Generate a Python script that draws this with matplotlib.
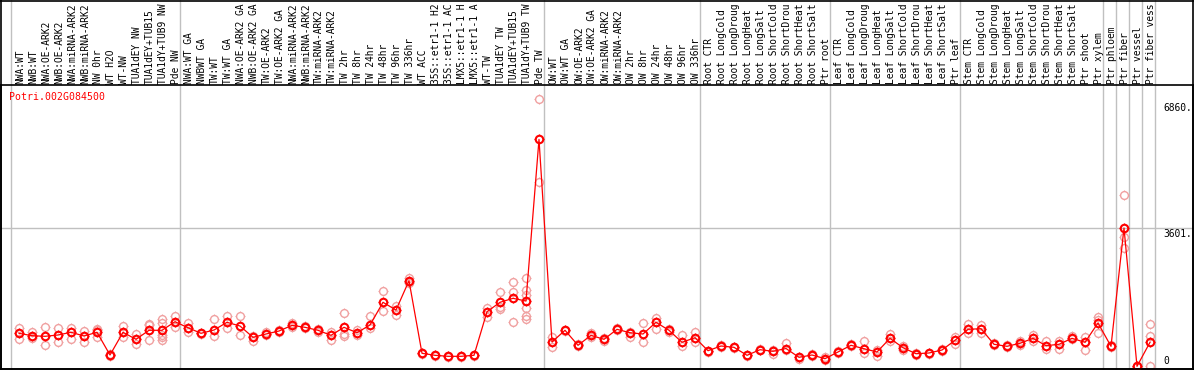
import numpy as np
import matplotlib
matplotlib.use("Agg")
import matplotlib.pyplot as plt
from matplotlib.path import Path
from matplotlib.transforms import blended_transform_factory
from matplotlib.lines import Line2D

gene = "Potri.002G084500"

group_nw = ["NWA:WT", "NWB:WT", "NWA:OE-ARK2", "NWB:OE-ARK2", "NWA:miRNA-ARK2",
            "NWB:miRNA-ARK2", "NW 0hr", "WT H2O", "WT-NW", "TUA1dEY NW",
            "TUA1dEY+TUB15 NW", "TUA1dY+TUB9 NW", "Pde NW"]
group_tw = ["NWA:WT GA", "NWBWT GA", "TW:WT", "TW:WT GA", "NWA:OE-ARK2 GA",
            "NWB:OE-ARK2 GA", "TW:OE-ARK2", "TW:OE-ARK2 GA", "NWA:miRNA-ARK2 GA",
            "NWB:miRNA-ARK2 GA", "TW:miRNA-ARK2", "TW:miRNA-ARK2 GA", "TW 2hr",
            "TW 8hr", "TW 24hr", "TW 48hr", "TW 96hr", "TW 336hr", "WT ACC",
            "35S::etr1-1 H2O", "35S::etr1-1 ACC", "LMX5::etr1-1 H2O",
            "LMX5::etr1-1 ACC", "WT-TW", "TUA1dEY TW", "TUA1dEY+TUB15 TW",
            "TUA1dY+TUB9 TW", "Pde TW"]
group_ow = ["OW:WT", "OW:WT GA", "OW:OE-ARK2", "OW:OE-ARK2 GA", "OW:miRNA-ARK2",
            "OW:miRNA-ARK2 GA", "OW 2hr", "OW 8hr", "OW 24hr", "OW 48hr",
            "OW 96hr", "OW 336hr"]
group_root = ["Root CTR", "Root LongCold", "Root LongDrought", "Root LongHeat",
              "Root LongSalt", "Root ShortCold", "Root ShortDrought",
              "Root ShortHeat", "Root ShortSalt", "Ptr root"]
group_leaf = ["Leaf CTR", "Leaf LongCold", "Leaf LongDrought", "Leaf LongHeat",
              "Leaf LongSalt", "Leaf ShortCold", "Leaf ShortDrought",
              "Leaf ShortHeat", "Leaf ShortSalt", "Ptr leaf"]
group_stem = ["Stem CTR", "Stem LongCold", "Stem LongDrought", "Stem LongHeat",
              "Stem LongSalt", "Stem ShortCold", "Stem ShortDrought",
              "Stem ShortHeat", "Stem ShortSalt", "Ptr shoot", "Ptr xylem"]
group_ptr = [["Ptr phloem"], ["Ptr fiber"], ["Ptr vessel"], ["Ptr fiber vessel"]]

groups = [group_nw, group_tw, group_ow, group_root, group_leaf, group_stem] + group_ptr

means = [873, 811, 795, 829, 899, 803, 899, 311, 899, 717, 951, 951, 1173,
         1018, 873, 958, 1158, 1062, 769, 855, 932, 1080, 1028, 951, 821, 1028,
         888, 1088, 1676, 1476, 2235, 355, 303, 277, 277, 303, 1432, 1676, 1779,
         1709, 5897,
         648, 951, 562, 821, 717, 976, 888, 855, 1158, 951, 640, 759,
         422, 544, 510, 303, 448, 407, 479, 251, 311, 215,
         389, 562, 474, 389, 743, 500, 344, 363, 440, 692,
         976, 992, 588, 536, 614, 743, 552, 588, 743, 640, 1140,
         536, 3601, 18, 640]

replicates = [
    [1018, 725], [914, 743], [1036, 570], [1002, 640], [1002, 717], [940, 655],
    [984, 958, 785], [337, 311, 285], [1062, 769], [855, 588], [1114, 1088, 692],
    [1251, 1147, 829, 785, 692], [1321, 1044],
    [1147, 914], [881, 855], [1235, 803], [1321, 1002], [1321, 821], [803, 681],
    [899, 829], [958, 914], [1132, 1044], [1062, 1002], [992, 914], [914, 699],
    [1391, 847, 803], [958, 829], [1321, 1002], [1968, 1440], [1588, 1347],
    [2313, 2209, 2176], [365, 345], [313, 293], [287, 267], [287, 267],
    [313, 293], [1536, 1303], [1935, 1562, 1502], [2194, 1950, 1173],
    [2313, 1994, 1865, 1520, 1321, 1243], [6950, 4799],
    [785, 526], [958, 932], [588, 544], [888, 785], [743, 681], [1002, 958],
    [914, 785], [1147, 648], [1261, 976], [976, 914], [829, 544], [914, 648],
    [422, 389], [562, 526], [526, 500], [313, 293], [466, 440], [440, 337],
    [614, 440], [267, 199], [337, 285], [251, 181],
    [414, 355], [596, 544], [673, 370], [440, 285], [855, 681], [544, 440],
    [355, 311], [370, 337], [474, 422], [769, 596],
    [1114, 888], [1088, 888], [614, 570], [570, 510], [681, 562], [829, 681],
    [681, 474], [681, 474], [803, 717], [769, 440], [1303, 1217, 873],
    [570, 510], [4455, 3375, 3074], [25, 10], [1114, 803, 26]]

ytick_values = [6860, 3601, 0]
ytick_texts = ["6860.", "3601.", "0"]

labels = [lab for g in groups for lab in g]
n = len(labels)
x = np.arange(n)

W, H, DPI = 1194, 370, 100
fig = plt.figure(figsize=(W / DPI, H / DPI), dpi=DPI)
fig.patch.set_facecolor("white")

ax = fig.add_axes([1 / W, (H - 369) / H, 1192 / W, 284 / H])
x0px, step = 19.0, 13.0
ax.set_xlim((1 - x0px) / step, (1193 - x0px) / step)
per_px = 3601 / 139.0
ax.set_ylim(-2 * per_px, (367 - 85) * per_px)
ax.set_xticks([])
ax.set_yticks([])
for s in ax.spines.values():
    s.set_color("black")
    s.set_linewidth(1.2)

mono = "DejaVu Sans Mono"
fs = 6.9

tick_verts = [(0, 0.74), (0, 1.0), (0, -0.74), (0, -1.0),
              (0.74, 0), (1.0, 0), (-0.74, 0), (-1.0, 0)]
tick_codes = [Path.MOVETO, Path.LINETO] * 4
ticks = Path(tick_verts, tick_codes)

bt = blended_transform_factory(ax.transData, fig.transFigure)
bounds = [-0.62]
cum = 0
for g in groups:
    cum += len(g)
    bounds.append(cum - 1 + 0.42)
for b in bounds:
    ax.add_line(Line2D([b, b], [1 / H, 1.0], transform=bt, color="#c0c0c0",
                       lw=1.0, clip_on=False, zorder=0.5))

ax.axhline(ytick_values[1], color="#c0c0c0", lw=1.0, zorder=0.5)

rx, ry = [], []
for i, reps in enumerate(replicates):
    for v in reps:
        rx.append(x[i])
        ry.append(v)
pink = "#f0a0a0"
ax.plot(rx, ry, linestyle="none", marker="o", markersize=5.6,
        markerfacecolor="none", markeredgecolor=pink, markeredgewidth=1.0,
        zorder=2)
ax.plot(rx, ry, linestyle="none", marker=ticks, markersize=7.6,
        markeredgecolor=pink, markeredgewidth=0.8, zorder=2)

red = "#ff0000"
ax.plot(x, means, color=red, lw=0.9, zorder=3)
ax.plot(x, means, linestyle="none", marker="o", markersize=5.4,
        markerfacecolor="none", markeredgecolor=red, markeredgewidth=1.5,
        zorder=4)
ax.plot(x, means, linestyle="none", marker=ticks, markersize=7.6,
        markeredgecolor=red, markeredgewidth=0.8, zorder=4)

xl = (1163 - x0px) / step
for v, t in zip(ytick_values, ytick_texts):
    if v == 0:
        ax.text(xl, v + 1.5 * per_px, t, family=mono, fontsize=fs, ha="left",
                va="bottom", color="black")
    else:
        ax.text(xl, v - 1 * per_px, t, family=mono, fontsize=fs, ha="left",
                va="top", color="black")

max_chars = 14
for i, lab in enumerate(labels):
    shown = lab[:max_chars].rstrip()
    ax.text(x[i] + 0.08, (H - 84) / H, shown, transform=bt, rotation=90,
            ha="center", va="bottom", family=mono, fontsize=fs, color="black",
            clip_on=False)

fig.text(9 / W, 1 - 97.5 / H, gene, color=red, family=mono, fontsize=7.1,
         ha="left", va="center")

for xs, ys in [([0.5, 0.5], [0, H]), ([W - 1, W - 1], [0, H]),
               ([0, W], [H - 0.5, H - 0.5]), ([0, W], [1, 1])]:
    fig.add_artist(Line2D([v / W for v in xs], [v / H for v in ys],
                          transform=fig.transFigure, color="black", lw=1.2))

fig.savefig("out.png", dpi=DPI)
